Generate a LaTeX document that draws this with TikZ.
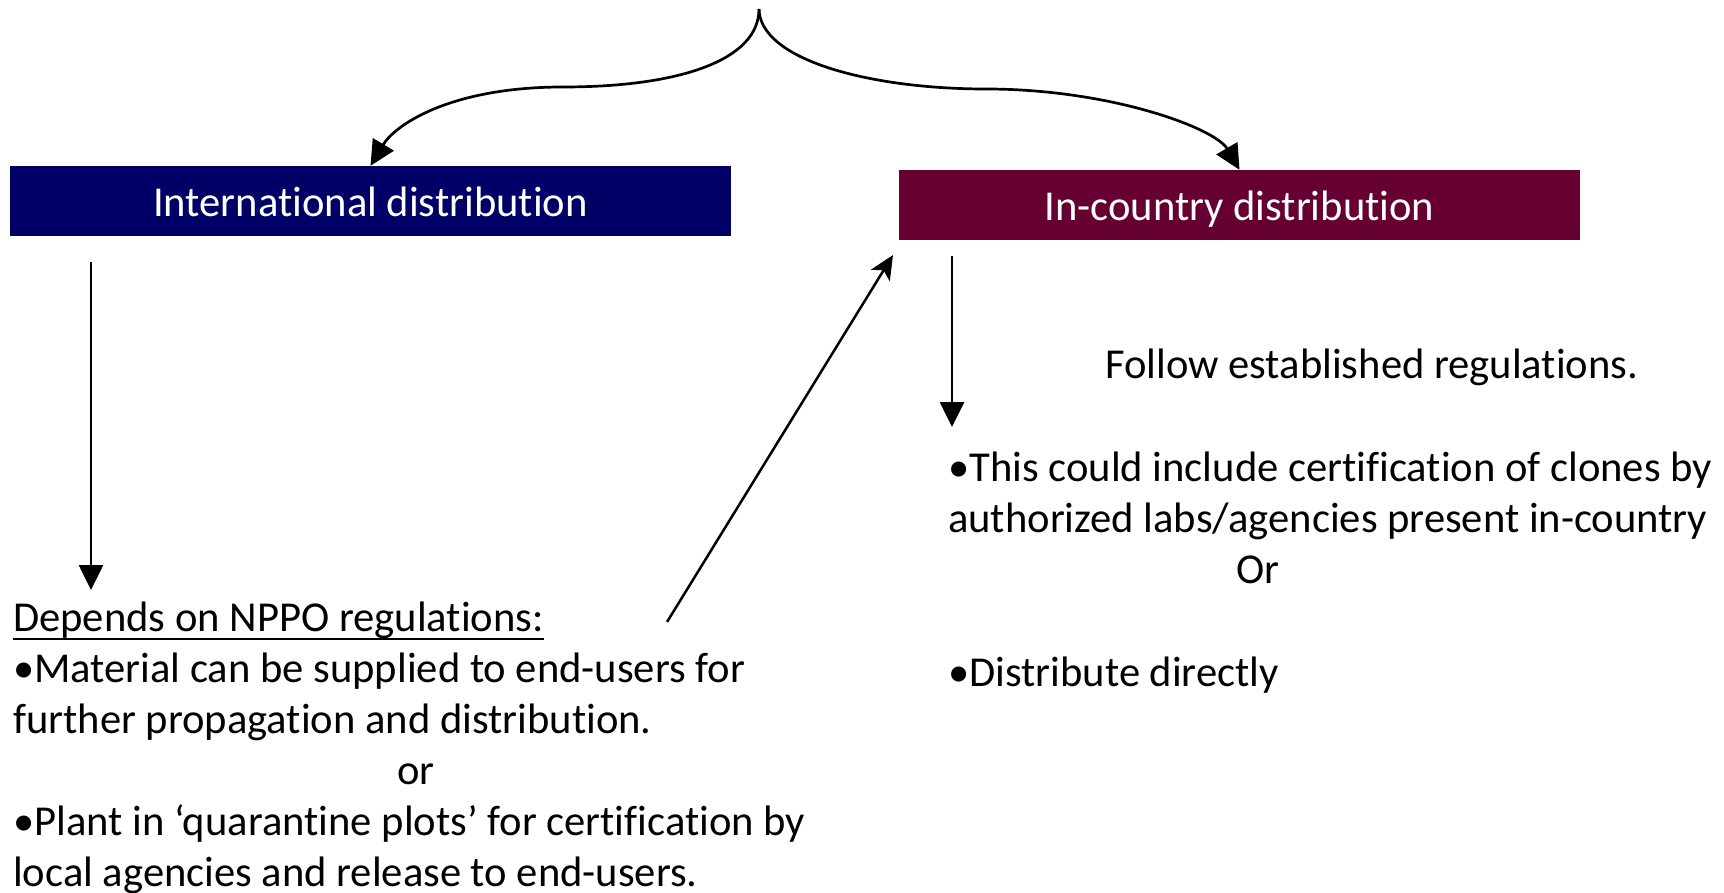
\documentclass[tikz,border=0pt]{standalone}
\usepackage{fontspec}
\setmainfont[Ligatures=NoCommon]{Carlito}
\usetikzlibrary{arrows.meta}
\definecolor{intlblue}{RGB}{0,0,102}
\definecolor{inctyred}{RGB}{102,0,51}
\begin{document}
\begin{tikzpicture}[x=1pt,y=-1pt,
  txt/.style={anchor=base west, inner sep=0pt, font=\fontsize{42.6}{51}\selectfont},
  hdr/.style={inner sep=0pt, minimum height=70pt, text height=31pt, text depth=0pt,
              text=white, font=\fontsize{42.6}{51}\selectfont},
  arr/.style={line width=2.7pt, -{Triangle[length=25pt,width=24pt]}},
  thin arr/.style={line width=2.5pt, -{Stealth[length=24pt,width=22pt,inset=6pt]}},
  ]
\useasboundingbox (0,0) rectangle (1724,893);

% the two distribution routes
\node[hdr, fill=intlblue, minimum width=721pt] (intl) at (370.5,201) {International distribution};
\node[hdr, fill=inctyred, minimum width=681pt] (incty) at (1239.5,205) {In-country distribution};

% brace splitting into the two routes
\coordinate (top) at (759,9);
\draw[arr] (top) .. controls (759,60) and (680,87) .. (563,87)
                 .. controls (450,87) and (395,125) .. (intl.north);
\draw[arr] (top) .. controls (760,60) and (870,89) .. (986,89)
                 .. controls (1110,89) and (1215,128) .. (incty.north);

% international route
\coordinate (d1s) at (91,262);
\coordinate (d1e) at (91,590);
\draw[arr] (d1s) -- (d1e);

\node[txt] (dep) at (13,631) {Depends on NPPO regulations:};
\draw[line width=2.6pt] ([yshift=-8pt]dep.base west) -- ([yshift=-8pt]dep.base east);
\node[txt] (m1) at (13,682) {•Material can be supplied to end-users for};
\node[txt] (m2) at (13,733) {further propagation and distribution.};
\node[txt, anchor=base] (or1) at (416,784) {or};
\node[txt] (p1) at (13,835) {•Plant in ‘quarantine plots’ for certification by};
\node[txt] (p2) at (13,886) {local agencies and release to end-users.};

% hand-over to in-country route
\coordinate (dgs) at (667,622);
\coordinate (dge) at (893,255);
\draw[thin arr] (dgs) -- (dge);

% in-country route
\coordinate (d2s) at (952,256);
\coordinate (d2e) at (952,427);
\draw[arr] (d2s) -- (d2e);

\node[txt] (fol) at (1105,378) {Follow established regulations.};
\node[txt] (c1) at (948,481) {•This could include certification of clones by};
\node[txt] (c2) at (948,532) {authorized labs/agencies present in-country};
\node[txt, anchor=base] (or2) at (1258,583) {Or};
\node[txt] (dd) at (948,686) {•Distribute directly};
\end{tikzpicture}
\end{document}
